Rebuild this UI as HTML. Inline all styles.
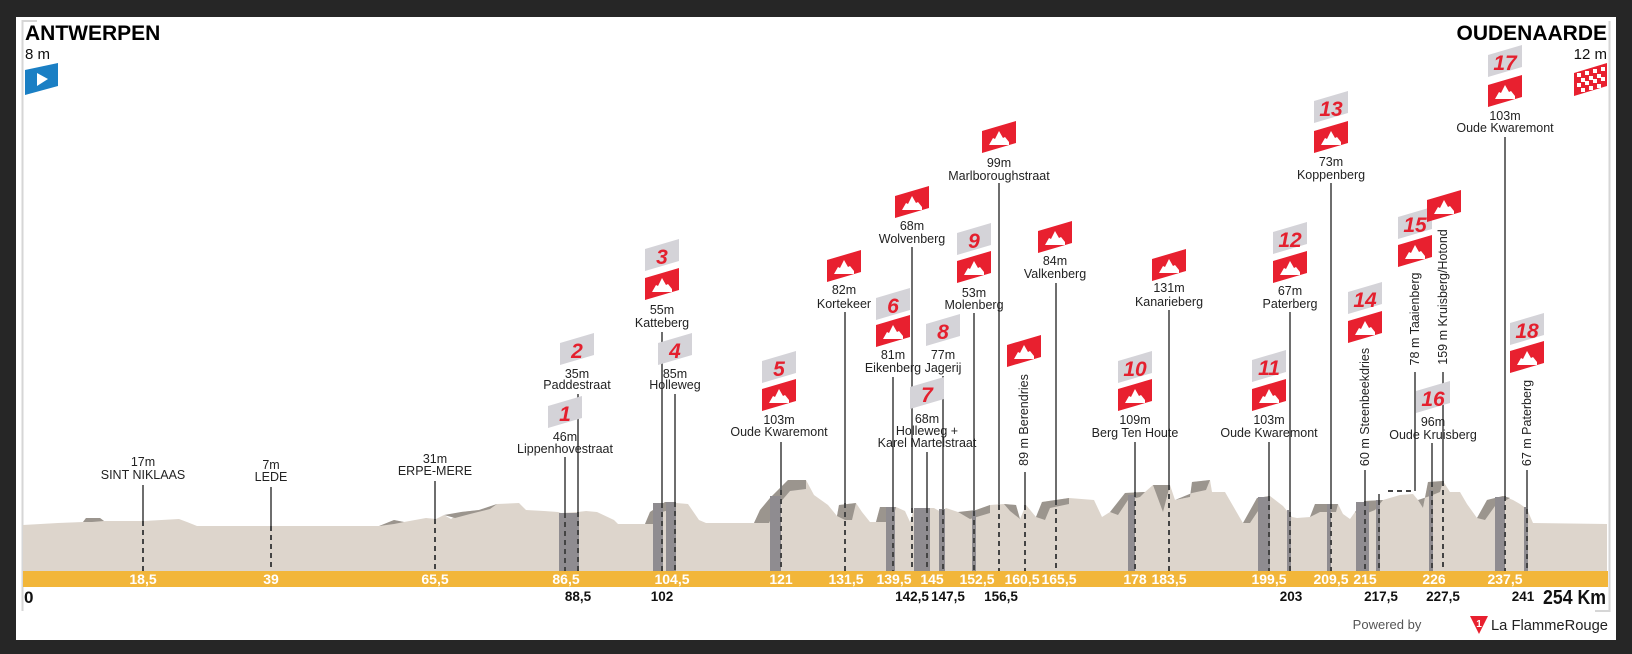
<!DOCTYPE html>
<html><head><meta charset="utf-8"><style>
html,body{margin:0;padding:0;background:#262626;}
svg{display:block;}
text{font-family:"Liberation Sans",sans-serif;}
.l{font-size:12.5px;fill:#222;text-anchor:middle;}
.y{font-size:14px;font-weight:bold;fill:#fff;text-anchor:middle;}
.b{font-size:13.5px;font-weight:bold;fill:#111;text-anchor:middle;}
.n{font-size:21px;font-weight:bold;font-style:italic;fill:#e4202e;text-anchor:middle;}
.s{stroke:#6e6e6e;stroke-width:2;}
.d{stroke:#444;stroke-width:2;stroke-dasharray:5 4;}
</style></head><body>
<svg width="1632" height="654" viewBox="0 0 1632 654" xmlns="http://www.w3.org/2000/svg">
<defs>
<g id="rf"><polygon points="-17,0 -17,-22 17,-32 17,-10" fill="#e8202f"/><polygon points="-10,-8 -6,-15 -4,-14 0,-22 4,-15 6,-16 10,-11 10,-8" fill="#fff"/></g>
<g id="gf"><polygon points="-17,0 -17,-22 17,-32 17,-10" fill="#d4d3d8"/></g>
</defs>
<rect x="16" y="17" width="1600" height="623" fill="#fff"/>
<polyline points="37,21 22.5,21 22.5,611" fill="none" stroke="#d6d6d6" stroke-width="2"/>
<polyline points="1609.5,21 1609.5,611 1595,611" fill="none" stroke="#d6d6d6" stroke-width="2"/>

<polygon fill="#ddd5cc" points="23,525 58,523 83,522 86,518 100,518 104,521 144,521 179,519 187,522 197,526 272,526 379,526 394,520 404,522 426,518 436,519 444,515 451,519 461,512 479,510 497,504 519,503 526,510 544,511 558,512 561,513 578,512 586,511 597,512 614,520 618,524 645,524 650,512 665,502 688,504 699,520 706,523 754,523 760,510 770,498 788,480 806,480 814,495 828,505 837,516 839,505 856,503 862,512 870,522 876,522 880,507 896,507 905,511 910,522 914,508 934,508 941,512 946,508 958,512 965,516 976,510 990,505 1004,504 1016,505 1020,519 1026,505 1036,517 1042,502 1069,498 1094,500 1102,517 1110,512 1120,509 1125,493 1145,492 1153,485 1170,485 1175,500 1190,497 1192,482 1210,480 1212,492 1225,492 1240,518 1243,523 1257,498 1270,496 1283,506 1292,517 1297,518 1310,517 1315,504 1338,504 1343,514 1350,519 1355,512 1365,501 1383,500 1400,495 1413,494 1418,500 1423,508 1428,482 1443,481 1450,492 1460,492 1467,504 1477,518 1487,500 1503,496 1513,500 1520,504 1527,509 1533,523 1607,524 1607,571 23,571"/>
<g fill="#9b958e">
<polygon points="83,522 86,518 100,518 104,521 92,522"/>
<polygon points="379,526 394,520 404,522 394,524"/>
<polygon points="444,515 461,512 479,510 497,504 490,509 470,514 455,518"/>
<polygon points="645,524 650,512 665,502 676,502 676,508 662,512 656,524"/>
<polygon points="754,523 760,510 770,498 788,480 806,480 806,489 790,491 778,505 769,523"/>
<polygon points="837,516 839,505 856,503 852,520 845,520"/>
<polygon points="870,522 876,522 880,507 896,507 892,522"/>
<polygon points="958,512 976,510 990,505 990,513 970,519"/>
<polygon points="1004,504 1016,505 1020,519 1010,511"/>
<polygon points="1036,517 1042,502 1069,498 1069,504 1050,508 1045,520"/>
<polygon points="1110,512 1125,493 1145,492 1140,497 1128,500 1118,515"/>
<polygon points="1153,485 1170,485 1163,512"/>
<polygon points="1175,500 1190,497 1192,482 1210,480 1206,490 1192,493"/>
<polygon points="1243,523 1257,498 1270,496 1270,503 1260,508 1250,523"/>
<polygon points="1310,517 1315,504 1338,504 1336,512 1320,512"/>
<polygon points="1355,512 1365,501 1383,500 1375,510 1360,516"/>
<polygon points="1418,500 1423,508 1428,482 1443,481 1440,492 1430,496"/>
<polygon points="1477,518 1487,500 1503,496 1510,498 1495,506 1485,520"/>
</g>
<g fill="#8f8c90">
<rect x="559" y="513" width="20" height="58"/>
<rect x="653" y="503" width="10" height="68"/><rect x="666" y="502" width="10" height="69"/>
<rect x="770" y="496" width="11" height="75"/>
<rect x="886" y="507" width="9" height="64"/>
<rect x="914" y="508" width="16" height="63"/>
<rect x="939" y="509" width="6" height="62"/>
<rect x="972" y="511" width="4" height="60"/>
<rect x="1128" y="495" width="7" height="76"/>
<rect x="1258" y="497" width="12" height="74"/>
<rect x="1287" y="510" width="4" height="61"/>
<rect x="1327" y="504" width="4" height="67"/>
<rect x="1356" y="502" width="13" height="69"/>
<rect x="1376" y="500" width="4" height="71"/>
<rect x="1429" y="490" width="4" height="81"/>
<rect x="1495" y="497" width="10" height="74"/>
<rect x="1524" y="507" width="4" height="64"/>
</g>

<g class="s">
<line x1="143" y1="485" x2="143" y2="521"/><line x1="271" y1="487" x2="271" y2="526"/><line x1="435" y1="481" x2="435" y2="519"/>
<line x1="565" y1="457" x2="565" y2="513"/><line x1="578" y1="394" x2="578" y2="512"/>
<line x1="662" y1="332" x2="662" y2="503"/><line x1="675" y1="394" x2="675" y2="502"/>
<line x1="781" y1="442" x2="781" y2="490"/><line x1="845" y1="312" x2="845" y2="503"/>
<line x1="893" y1="377" x2="893" y2="507"/><line x1="912" y1="247" x2="912" y2="508"/>
<line x1="927" y1="452" x2="927" y2="508"/><line x1="943" y1="376" x2="943" y2="510"/>
<line x1="974" y1="313" x2="974" y2="511"/><line x1="999" y1="183" x2="999" y2="505"/>
<line x1="1025" y1="472" x2="1025" y2="505"/><line x1="1056" y1="283" x2="1056" y2="500"/>
<line x1="1135" y1="442" x2="1135" y2="492"/><line x1="1169" y1="310" x2="1169" y2="485"/>
<line x1="1269" y1="442" x2="1269" y2="496"/><line x1="1290" y1="312" x2="1290" y2="512"/>
<line x1="1331" y1="183" x2="1331" y2="504"/><line x1="1365" y1="470" x2="1365" y2="501"/>
<line x1="1415" y1="372" x2="1415" y2="491"/><line x1="1379" y1="494" x2="1379" y2="500"/>
<line x1="1432" y1="443" x2="1432" y2="482"/><line x1="1443" y1="372" x2="1443" y2="481"/>
<line x1="1505" y1="137" x2="1505" y2="496"/><line x1="1527" y1="470" x2="1527" y2="509"/>
</g>
<g class="d">
<line x1="143" y1="521" x2="143" y2="571"/><line x1="271" y1="526" x2="271" y2="571"/><line x1="435" y1="519" x2="435" y2="571"/>
<line x1="565" y1="513" x2="565" y2="571"/><line x1="578" y1="512" x2="578" y2="571"/>
<line x1="662" y1="503" x2="662" y2="571"/><line x1="675" y1="502" x2="675" y2="571"/>
<line x1="781" y1="490" x2="781" y2="571"/><line x1="845" y1="503" x2="845" y2="571"/>
<line x1="893" y1="507" x2="893" y2="571"/><line x1="912" y1="508" x2="912" y2="571"/>
<line x1="927" y1="508" x2="927" y2="571"/><line x1="943" y1="510" x2="943" y2="571"/>
<line x1="974" y1="511" x2="974" y2="571"/><line x1="999" y1="505" x2="999" y2="571"/>
<line x1="1025" y1="505" x2="1025" y2="571"/><line x1="1056" y1="500" x2="1056" y2="571"/>
<line x1="1135" y1="492" x2="1135" y2="571"/><line x1="1169" y1="485" x2="1169" y2="571"/>
<line x1="1269" y1="496" x2="1269" y2="571"/><line x1="1290" y1="512" x2="1290" y2="571"/>
<line x1="1331" y1="504" x2="1331" y2="571"/><line x1="1365" y1="501" x2="1365" y2="571"/>
<line x1="1379" y1="500" x2="1379" y2="571"/><line x1="1388" y1="491" x2="1415" y2="491"/>
<line x1="1432" y1="482" x2="1432" y2="571"/><line x1="1443" y1="481" x2="1443" y2="571"/>
<line x1="1505" y1="496" x2="1505" y2="571"/><line x1="1527" y1="509" x2="1527" y2="571"/>
</g>

<rect x="23" y="571" width="1585" height="16" fill="#f2b63a"/>
<g class="y">
<text x="143" y="584">18,5</text><text x="271" y="584">39</text><text x="435" y="584">65,5</text>
<text x="566" y="584">86,5</text><text x="672" y="584">104,5</text><text x="781" y="584">121</text>
<text x="846" y="584">131,5</text><text x="894" y="584">139,5</text><text x="932" y="584">145</text>
<text x="977" y="584">152,5</text><text x="1022" y="584">160,5</text><text x="1059" y="584">165,5</text>
<text x="1135" y="584">178</text><text x="1169" y="584">183,5</text><text x="1269" y="584">199,5</text>
<text x="1331" y="584">209,5</text><text x="1365" y="584">215</text><text x="1434" y="584">226</text><text x="1505" y="584">237,5</text>
</g>
<g class="b">
<text x="578" y="601">88,5</text><text x="662" y="601">102</text><text x="912" y="601">142,5</text><text x="948" y="601">147,5</text>
<text x="1001" y="601">156,5</text><text x="1291" y="601">203</text><text x="1381" y="601">217,5</text><text x="1443" y="601">227,5</text><text x="1523" y="601">241</text>
</g>
<text x="24" y="603" style="font-size:17px;font-weight:bold;fill:#111">0</text>
<text x="1543" y="604" textLength="63" lengthAdjust="spacingAndGlyphs" style="font-size:20px;font-weight:bold;fill:#111">254 Km</text>
<text x="1387" y="629" style="font-size:13px;fill:#555;text-anchor:middle">Powered by</text>
<polygon points="1470,616 1488,616 1479,634" fill="#e8202f"/>
<text x="1479" y="627" style="font-size:10px;font-weight:bold;fill:#fff;text-anchor:middle">1</text>
<text x="1491" y="630" textLength="117" lengthAdjust="spacingAndGlyphs" style="font-size:15px;fill:#222">La FlammeRouge</text>

<text x="25" y="40" style="font-size:21px;font-weight:bold;fill:#000">ANTWERPEN</text>
<text x="25" y="59" style="font-size:15px;fill:#111">8 m</text>
<polygon points="25,95 25,70 58,63 58,86" fill="#1a7fc4"/>
<polygon points="37,73 37,86 48,79" fill="#fff"/>
<text x="1607" y="40" style="font-size:21px;font-weight:bold;fill:#000;text-anchor:end">OUDENAARDE</text>
<text x="1607" y="59" style="font-size:15px;fill:#111;text-anchor:end">12 m</text>
<polygon points="1574,96 1574,73 1607,63 1607,86" fill="#e8202f"/>
<g fill="#fff">
<rect x="1577" y="73" width="4" height="4"/><rect x="1585" y="71" width="4" height="4"/><rect x="1593" y="69" width="4" height="4"/><rect x="1601" y="67" width="4" height="4"/>
<rect x="1581" y="78" width="4" height="4"/><rect x="1589" y="76" width="4" height="4"/><rect x="1597" y="74" width="4" height="4"/>
<rect x="1577" y="83" width="4" height="4"/><rect x="1585" y="81" width="4" height="4"/><rect x="1593" y="79" width="4" height="4"/><rect x="1601" y="77" width="4" height="4"/>
<rect x="1581" y="88" width="4" height="4"/><rect x="1589" y="86" width="4" height="4"/><rect x="1597" y="84" width="4" height="4"/>
</g>

<text class="l" x="143" y="466">17m</text><text class="l" x="143" y="479">SINT NIKLAAS</text>
<text class="l" x="271" y="469">7m</text><text class="l" x="271" y="481">LEDE</text>
<text class="l" x="435" y="463">31m</text><text class="l" x="435" y="475">ERPE-MERE</text>

<use href="#gf" x="565" y="428"/><text class="n" x="565" y="421">1</text>
<use href="#gf" x="577" y="365"/><text class="n" x="577" y="358">2</text>
<use href="#gf" x="662" y="271"/><text class="n" x="662" y="264">3</text><use href="#rf" x="662" y="300"/>
<use href="#gf" x="675" y="365"/><text class="n" x="675" y="358">4</text>
<use href="#gf" x="779" y="383"/><text class="n" x="779" y="376">5</text><use href="#rf" x="779" y="411"/>
<use href="#rf" x="844" y="282"/>
<use href="#gf" x="893" y="320"/><text class="n" x="893" y="313">6</text><use href="#rf" x="893" y="347"/>
<use href="#rf" x="912" y="218"/>
<use href="#gf" x="927" y="409"/><text class="n" x="927" y="402">7</text>
<use href="#gf" x="943" y="346"/><text class="n" x="943" y="339">8</text>
<use href="#gf" x="974" y="255"/><text class="n" x="974" y="248">9</text><use href="#rf" x="974" y="283"/>
<use href="#rf" x="999" y="153"/>
<use href="#rf" x="1024" y="367"/>
<use href="#rf" x="1055" y="253"/>
<use href="#gf" x="1135" y="383"/><text class="n" x="1135" y="376">10</text><use href="#rf" x="1135" y="411"/>
<use href="#rf" x="1169" y="281"/>
<use href="#gf" x="1269" y="382"/><text class="n" x="1269" y="375">11</text><use href="#rf" x="1269" y="411"/>
<use href="#gf" x="1290" y="254"/><text class="n" x="1290" y="247">12</text><use href="#rf" x="1290" y="283"/>
<use href="#gf" x="1331" y="123"/><text class="n" x="1331" y="116">13</text><use href="#rf" x="1331" y="153"/>
<use href="#gf" x="1365" y="314"/><text class="n" x="1365" y="307">14</text><use href="#rf" x="1365" y="343"/>
<use href="#gf" x="1415" y="239"/><text class="n" x="1415" y="232">15</text><use href="#rf" x="1415" y="267"/>
<use href="#rf" x="1444" y="222"/>
<use href="#gf" x="1433" y="413"/><text class="n" x="1433" y="406">16</text>
<use href="#gf" x="1505" y="77"/><text class="n" x="1505" y="70">17</text><use href="#rf" x="1505" y="107"/>
<use href="#gf" x="1527" y="345"/><text class="n" x="1527" y="338">18</text><use href="#rf" x="1527" y="373"/>

<text class="l" x="565" y="441">46m</text><text class="l" x="565" y="453">Lippenhovestraat</text>
<text class="l" x="577" y="378">35m</text><text class="l" x="577" y="389">Paddestraat</text>
<text class="l" x="662" y="314">55m</text><text class="l" x="662" y="327">Katteberg</text>
<text class="l" x="675" y="378">85m</text><text class="l" x="675" y="389">Holleweg</text>
<text class="l" x="779" y="424">103m</text><text class="l" x="779" y="436">Oude Kwaremont</text>
<text class="l" x="844" y="294">82m</text><text class="l" x="844" y="308">Kortekeer</text>
<text class="l" x="893" y="359">81m</text><text class="l" x="893" y="372">Eikenberg</text>
<text class="l" x="912" y="230">68m</text><text class="l" x="912" y="243">Wolvenberg</text>
<text class="l" x="927" y="423">68m</text><text class="l" x="927" y="435">Holleweg +</text><text class="l" x="927" y="447">Karel Martelstraat</text>
<text class="l" x="943" y="359">77m</text><text class="l" x="943" y="372">Jagerij</text>
<text class="l" x="974" y="297">53m</text><text class="l" x="974" y="309">Molenberg</text>
<text class="l" x="999" y="167">99m</text><text class="l" x="999" y="180">Marlboroughstraat</text>
<text class="l" x="1055" y="265">84m</text><text class="l" x="1055" y="278">Valkenberg</text>
<text class="l" x="1135" y="424">109m</text><text class="l" x="1135" y="437">Berg Ten Houte</text>
<text class="l" x="1169" y="292">131m</text><text class="l" x="1169" y="306">Kanarieberg</text>
<text class="l" x="1269" y="424">103m</text><text class="l" x="1269" y="437">Oude Kwaremont</text>
<text class="l" x="1290" y="295">67m</text><text class="l" x="1290" y="308">Paterberg</text>
<text class="l" x="1331" y="166">73m</text><text class="l" x="1331" y="179">Koppenberg</text>
<text class="l" x="1433" y="426">96m</text><text class="l" x="1433" y="439">Oude Kruisberg</text>
<text class="l" x="1505" y="120">103m</text><text class="l" x="1505" y="132">Oude Kwaremont</text>
<text class="l" transform="translate(1028,420) rotate(-90)">89 m Berendries</text>
<text class="l" transform="translate(1369,407) rotate(-90)">60 m Steenbeekdries</text>
<text class="l" transform="translate(1419,319) rotate(-90)">78 m Taaienberg</text>
<text class="l" transform="translate(1447,297) rotate(-90)">159 m Kruisberg/Hotond</text>
<text class="l" transform="translate(1531,423) rotate(-90)">67 m Paterberg</text>
</svg>
</body></html>
